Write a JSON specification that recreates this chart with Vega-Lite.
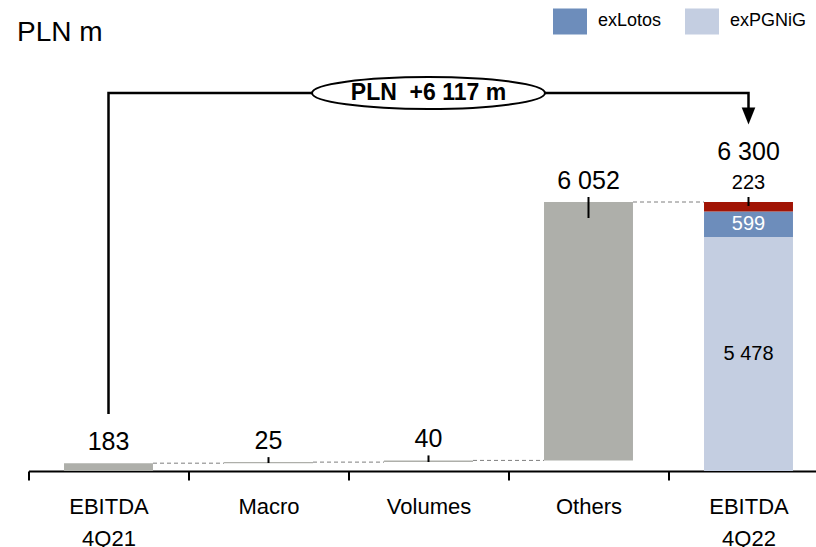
{
  "$schema": "https://vega.github.io/schema/vega-lite/v6.json",
  "width": 800,
  "height": 411,
  "autosize": {"type": "none"},
  "padding": {"left": 28.5, "top": 60, "right": 0, "bottom": 76},
  "background": "white",
  "title": {"text": "PLN m", "anchor": "start", "frame": "group", "dx": -11.5, "offset": -65, "baseline": "alphabetic", "fontSize": 28, "font": "Liberation Sans", "fontWeight": "normal", "color": "#000000"},
  "config": {"view": {"stroke": null}, "font": "'Liberation Sans Narrow', 'Arial Narrow', 'Liberation Sans', sans-serif"},
  "datasets": {
    "bars": [
      {"cat": "EBITDA 4Q21", "start": 0, "end": 183, "series": "Bridge"},
      {"cat": "Macro", "start": 183, "end": 208, "series": "Bridge"},
      {"cat": "Volumes", "start": 208, "end": 248, "series": "Bridge"},
      {"cat": "Others", "start": 248, "end": 6300, "series": "Bridge"},
      {"cat": "EBITDA 4Q22", "start": 0, "end": 5478, "series": "exPGNiG"},
      {"cat": "EBITDA 4Q22", "start": 5478, "end": 6077, "series": "exLotos"},
      {"cat": "EBITDA 4Q22", "start": 6077, "end": 6300, "series": "Other"}
    ],
    "connectors": [
      {"cat": "EBITDA 4Q21", "to": "Macro", "level": 183},
      {"cat": "Macro", "to": "Volumes", "level": 208},
      {"cat": "Volumes", "to": "Others", "level": 248},
      {"cat": "Others", "to": "EBITDA 4Q22", "level": 6300}
    ],
    "ticks": [
      {"cat": "Macro", "y1": 208, "y2": 187},
      {"cat": "Volumes", "y1": 248, "y2": 211},
      {"cat": "Others", "y1": 6300, "y2": 5925},
      {"cat": "EBITDA 4Q22", "y1": 6300, "y2": 6206}
    ],
    "bigLabels": [
      {"cat": "EBITDA 4Q21", "top": 183, "label": "183"},
      {"cat": "Macro", "top": 208, "label": "25"},
      {"cat": "Volumes", "top": 248, "label": "40"},
      {"cat": "Others", "top": 6300, "label": "6 052"}
    ],
    "totalLabel": [
      {"cat": "EBITDA 4Q22", "top": 6300, "label": "6 300"}
    ],
    "smallTop": [
      {"cat": "EBITDA 4Q22", "top": 6300, "label": "223"}
    ],
    "inside": [
      {"cat": "EBITDA 4Q22", "mid": 5777.5, "label": "599", "tone": "light"},
      {"cat": "EBITDA 4Q22", "mid": 2739, "label": "5 478", "tone": "dark"}
    ],
    "bracket": [
      {"cat": "EBITDA 4Q21", "v": 1335, "step": 1},
      {"cat": "EBITDA 4Q21", "v": 8853, "step": 2},
      {"cat": "EBITDA 4Q22", "v": 8853, "step": 3},
      {"cat": "EBITDA 4Q22", "v": 8502, "step": 4}
    ],
    "bubble": [
      {"cat": "Volumes", "v": 8853, "label": "PLN\u00a0 +6 117 m"}
    ],
    "arrow": [
      {"cat": "EBITDA 4Q22", "v": 8314}
    ]
  },
  "encoding": {
    "x": {
      "field": "cat",
      "type": "nominal",
      "scale": {"domain": ["EBITDA 4Q21", "Macro", "Volumes", "Others", "EBITDA 4Q22"], "paddingInner": 0, "paddingOuter": 0},
      "axis": {
        "title": null,
        "grid": false,
        "domainColor": "#000000",
        "domainWidth": 2,
        "tickColor": "#000000",
        "tickWidth": 2,
        "tickSize": 9,
        "tickBand": "extent",
        "labelAngle": 0,
        "labelFont": "Liberation Sans",
        "labelFontSize": 22,
        "labelColor": "#000000",
        "labelPadding": 16,
        "labelLineHeight": 32,
        "labelExpr": "split(datum.label, ' ')"
      }
    }
  },
  "layer": [
    {
      "data": {"name": "connectors"},
      "mark": {"type": "rule", "strokeDash": [4, 3], "color": "#7f7f7f", "strokeWidth": 1, "xOffset": 44.5, "x2Offset": -44.5},
      "encoding": {
        "x2": {"field": "to"},
        "y": {"field": "level", "type": "quantitative", "scale": {"domain": [0, 9626], "nice": false, "zero": true}, "axis": null}
      }
    },
    {
      "data": {"name": "bars"},
      "mark": {"type": "bar", "width": {"band": 0.556}},
      "encoding": {
        "y": {"field": "start", "type": "quantitative", "scale": {"domain": [0, 9626], "nice": false, "zero": true}, "axis": null},
        "y2": {"field": "end"},
        "color": {
          "field": "series",
          "type": "nominal",
          "scale": {"domain": ["exLotos", "exPGNiG", "Other", "Bridge"], "range": ["#6D8DBB", "#C4CEE1", "#A11405", "#AEAFAA"]},
          "legend": {
            "title": null,
            "values": ["exLotos", "exPGNiG"],
            "orient": "none",
            "legendX": 524.5,
            "legendY": -56,
            "padding": 0,
            "direction": "horizontal",
            "symbolType": "M -1 -0.765 H 1 V 0.765 H -1 Z",
            "symbolSize": 1156,
            "symbolStrokeWidth": 0,
            "symbolOpacity": 1,
            "labelFont": "Liberation Sans",
            "labelFontSize": 18,
            "labelColor": "#000000",
            "labelOffset": 11,
            "columnPadding": 23
          }
        }
      }
    },
    {
      "data": {"name": "ticks"},
      "mark": {"type": "rule", "color": "#000000", "strokeWidth": 2, "yOffset": -5},
      "encoding": {
        "y": {"field": "y1", "type": "quantitative", "scale": {"domain": [0, 9626], "nice": false, "zero": true}, "axis": null},
        "y2": {"field": "y2"}
      }
    },
    {
      "data": {"name": "bigLabels"},
      "mark": {"type": "text", "dy": -21, "fontSize": 25, "baseline": "middle", "color": "#000000"},
      "encoding": {
        "y": {"field": "top", "type": "quantitative", "scale": {"domain": [0, 9626], "nice": false, "zero": true}, "axis": null},
        "text": {"field": "label"}
      }
    },
    {
      "data": {"name": "totalLabel"},
      "mark": {"type": "text", "dy": -50, "fontSize": 25, "baseline": "middle", "color": "#000000"},
      "encoding": {
        "y": {"field": "top", "type": "quantitative", "scale": {"domain": [0, 9626], "nice": false, "zero": true}, "axis": null},
        "text": {"field": "label"}
      }
    },
    {
      "data": {"name": "smallTop"},
      "mark": {"type": "text", "dy": -19, "fontSize": 20, "baseline": "middle", "color": "#000000"},
      "encoding": {
        "y": {"field": "top", "type": "quantitative", "scale": {"domain": [0, 9626], "nice": false, "zero": true}, "axis": null},
        "text": {"field": "label"}
      }
    },
    {
      "data": {"name": "inside"},
      "mark": {"type": "text", "fontSize": 20, "baseline": "middle"},
      "encoding": {
        "y": {"field": "mid", "type": "quantitative", "scale": {"domain": [0, 9626], "nice": false, "zero": true}, "axis": null},
        "text": {"field": "label"},
        "color": {"condition": {"test": "datum.tone === 'light'", "value": "#ffffff"}, "value": "#000000"}
      }
    },
    {
      "data": {"name": "bracket"},
      "mark": {"type": "line", "color": "#000000", "strokeWidth": 2.5, "strokeJoin": "miter"},
      "encoding": {
        "y": {"field": "v", "type": "quantitative", "scale": {"domain": [0, 9626], "nice": false, "zero": true}, "axis": null},
        "order": {"field": "step", "type": "quantitative"}
      }
    },
    {
      "data": {"name": "bubble"},
      "mark": {"type": "point", "shape": "M -1 0 A 1 0.137 0 1 1 1 0 A 1 0.137 0 1 1 -1 0 Z", "size": 54289, "filled": true, "fill": "#ffffff", "stroke": "#000000", "strokeWidth": 2, "opacity": 1, "fillOpacity": 1, "strokeOpacity": 1},
      "encoding": {
        "y": {"field": "v", "type": "quantitative", "scale": {"domain": [0, 9626], "nice": false, "zero": true}, "axis": null}
      }
    },
    {
      "data": {"name": "bubble"},
      "mark": {"type": "text", "fontSize": 23, "fontWeight": "bold", "baseline": "middle", "color": "#000000"},
      "encoding": {
        "y": {"field": "v", "type": "quantitative", "scale": {"domain": [0, 9626], "nice": false, "zero": true}, "axis": null},
        "text": {"field": "label"}
      }
    },
    {
      "data": {"name": "arrow"},
      "mark": {"type": "point", "shape": "M -0.8 -1 L 0.8 -1 L 0 1 Z", "size": 289, "filled": true, "color": "#000000", "opacity": 1},
      "encoding": {
        "y": {"field": "v", "type": "quantitative", "scale": {"domain": [0, 9626], "nice": false, "zero": true}, "axis": null}
      }
    }
  ]
}
